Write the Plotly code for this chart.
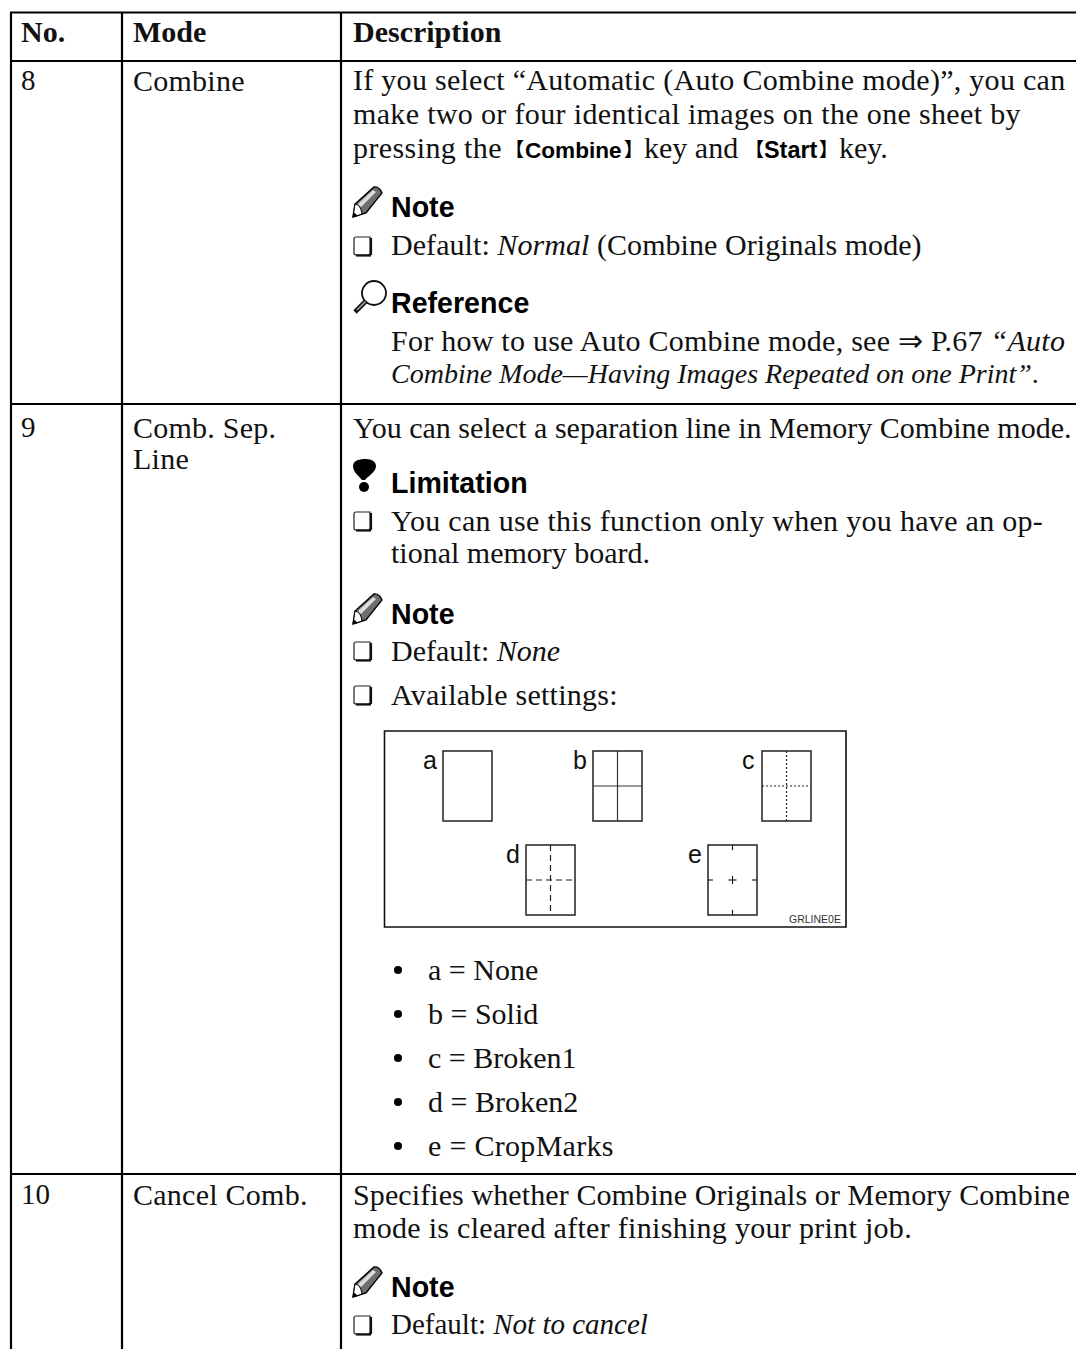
import plotly.graph_objects as go

SERIF = "Liberation Serif"
SANS = "Liberation Sans"
CJK = "Noto Sans CJK JP"
W, H = 1076, 1349

HEADERS = ["No.", "Mode", "Description"]
NUMBERS = ["8", "9", "10"]
MODES = ["Combine", "Comb. Sep.", "Line", "Cancel Comb."]
KEY_A = "Combine"
KEY_B = "Start"
KEY_LINE = ["pressing the", "key and", "key."]
BODY_TEXT = [
    "If you select “Automatic (Auto Combine mode)”, you can",
    "make two or four identical images on the one sheet by",
    "Default: <i>Normal</i> (Combine Originals mode)",
    "For how to use Auto Combine mode, see ⇒ P.67 <i>“Auto</i>",
    "<i>Combine Mode—Having Images Repeated on one Print”</i>.",
    "You can select a separation line in Memory Combine mode.",
    "You can use this function only when you have an op-",
    "tional memory board.",
    "Default: <i>None</i>",
    "Available settings:",
    "a = None", "b = Solid", "c = Broken1", "d = Broken2", "e = CropMarks",
    "Specifies whether Combine Originals or Memory Combine",
    "mode is cleared after finishing your print job.",
    "Default: <i>Not to cancel</i>",
]
HEADINGS = ["Note", "Reference", "Limitation", "Note", "Note"]
DIAGRAM_LETTERS = ["a", "b", "c", "d", "e"]
DIAGRAM_CODE = "GRLINE0E"

annotations, shapes = [], []


def put(x, base, text, size=30, family=SERIF, color="#111", spacing=0):
    if spacing:
        text = f"<span style='letter-spacing:{spacing}px'>{text}</span>"
    annotations.append(dict(
        x=x, y=base + 0.255 * size, xref="x", yref="y", text=text, showarrow=False,
        xanchor="left", yanchor="bottom", align="left", borderpad=0, borderwidth=0,
        font=dict(family=family, size=size, color=color)))


def line(x0, y0, x1, y1, w=2.0, color="#000", dash="solid"):
    shapes.append(dict(type="line", x0=x0, y0=y0, x1=x1, y1=y1, xref="x", yref="y",
                       line=dict(color=color, width=w, dash=dash)))


def path(d, fill="#000", lc="#000", lw=0):
    shapes.append(dict(type="path", path=d, xref="x", yref="y", fillcolor=fill,
                       line=dict(color=lc, width=lw)))


def rect(x0, y0, x1, y1, w=1.3, color="#222"):
    shapes.append(dict(type="rect", x0=x0, y0=y0, x1=x1, y1=y1, xref="x", yref="y",
                       line=dict(color=color, width=w), fillcolor="rgba(0,0,0,0)"))


def checkbox(base):
    x, y0, y1 = 354, base - 18, base
    path(f"M{x},{y0+2} Q{x},{y0} {x+2},{y0} L{x+16},{y0} L{x+16},{y1-2} Q{x+16},{y1} {x+14},{y1} L{x+2},{y1} Q{x},{y1} {x},{y1-2} Z",
         fill="#fff", lc="#222", lw=1.2)
    line(x + 17, y0 + 1, x + 17, y1, 2.2, "#111")
    line(x + 2, y1 + 0.5, x + 17, y1 + 0.5, 2.2, "#111")


def pencil(base):
    b = base
    path(f"M353,{b+1} L355,{b-12} L374,{b-29} Q379,{b-30} 382,{b-23} L366,{b-3} Z", fill="#6e6e6e", lc="#000", lw=1.4)
    path(f"M358,{b-12} L373,{b-26} L376,{b-24} L361,{b-9} Z", fill="#dcdcdc")
    path(f"M355,{b-12} Q361,{b-11} 362,{b-2} L353,{b+1} Z", fill="#fff", lc="#000", lw=1)
    path(f"M353,{b+1} L353.5,{b-4} L358,{b} Z", fill="#000")


def magnifier(base):
    b = base
    shapes.append(dict(type="circle", x0=362, y0=b-31, x1=386, y1=b-7, xref="x", yref="y",
                       line=dict(color="#111", width=1.8), fillcolor="#fff"))
    line(366, b-11, 355, b, 4.6, "#111")
    line(365.5, b-10.5, 357, b-2, 1.4, "#aaa")


def limit_icon(base):
    b = base
    path(f"M353,{b-26} C353,{b-32} 360,{b-33} 366,{b-33} C372,{b-33} 376,{b-30} 376,{b-26} "
         f"C376,{b-20} 368,{b-16} 365,{b-12} L362,{b-12} C358,{b-17} 353,{b-20} 353,{b-26} Z")
    shapes.append(dict(type="circle", x0=359, y0=b-10, x1=369, y1=b, xref="x", yref="y",
                       line=dict(width=0), fillcolor="#000"))


# table rules
for y in (12.5, 61, 404, 1174):
    line(10, y, W, y, 2.2)
for x in (11, 122, 341):
    line(x, 12, x, H, 2.2)

# header + first columns
for x, t in zip((21, 133, 353), HEADERS):
    put(x, 40, f"<b>{t}</b>", 30)
for n, b in zip(NUMBERS, (89, 436, 1203)):
    put(21, b, n, 29)
for m, b in zip(MODES, (89, 436, 467, 1203)):
    put(133, b, m, 30, spacing=.25)

# body text
BODY_X = [353, 353, 391, 391, 391, 353, 391, 391, 391, 391, 428, 428, 428, 428, 428, 353, 353, 391]
BODY_BASE = [89, 122, 254, 349, 382, 436, 529, 561, 659, 703, 978, 1022, 1066, 1110, 1154, 1203, 1236, 1333]
BODY_SIZE = [30, 30, 30, 30, 28, 30, 30, 30, 30, 30, 30, 30, 30, 30, 30, 30, 30, 29]
BODY_TRACK = [.28, .34, .06, .25, 0, 0, .3, 0, 0, .26, 0, 0, 0, 0, .3, .1, .3, 0]
for t, x, b, s, tr in zip(BODY_TEXT, BODY_X, BODY_BASE, BODY_SIZE, BODY_TRACK):
    put(x, b, t, s, spacing=tr)

# the line that carries the key names
put(353, 156, KEY_LINE[0], 30, spacing=.4)
put(505, 157, "<b>【</b>", 19, CJK, "#000")
put(525, 157, f"<b>{KEY_A}</b>", 22.6, SANS, "#000")
put(623.5, 157, "<b>】</b>", 19, CJK, "#000")
put(644, 156, KEY_LINE[1], 30)
put(745, 157, "<b>【</b>", 19, CJK, "#000")
put(764, 157, f"<b>{KEY_B}</b>", 23.4, SANS, "#000")
put(819, 157, "<b>】</b>", 19, CJK, "#000")
put(838.5, 156, KEY_LINE[2], 30)

for t, b in zip(HEADINGS, (216, 312, 492, 623, 1296)):
    put(391, b, f"<b>{t}</b>", 28.6, SANS, "#000")

pencil(216); pencil(623); pencil(1296)
magnifier(312)
limit_icon(492)
for b in (255, 530, 660, 704, 1334):
    checkbox(b)
for b in (979, 1023, 1067, 1111, 1155):
    shapes.append(dict(type="circle", x0=394, y0=b-13, x1=402, y1=b-5, xref="x", yref="y",
                       line=dict(width=0), fillcolor="#000"))

# diagram
rect(384.5, 731, 846, 927, 1.6, "#111")
RECT_X = [443, 593, 762, 526, 708]
RECT_Y = [751, 751, 751, 845, 845]
for x, y, l in zip(RECT_X, RECT_Y, DIAGRAM_LETTERS):
    rect(x, y, x + 49, y + 70, 1.5, "#222")
    put(x - 20, y + 17, l, 25, SANS, "#111")
cx, cy = 593 + 24.5, 751 + 35
line(cx, 751, cx, 821, 1.2, "#333"); line(593, cy, 642, cy, 1.2, "#333")
cx, cy = 762 + 24.5, 751 + 35
line(cx, 751, cx, 821, 1.2, "#222", "2px,2px"); line(762, cy, 811, cy, 1.2, "#222", "2px,2px")
cx, cy = 526 + 24.5, 845 + 35
line(cx, 845, cx, 915, 1.2, "#222", "6px,4px"); line(526, cy, 575, cy, 1.2, "#222", "6px,4px")
cx, cy = 708 + 24.5, 845 + 35
for a in ((cx, 845, cx, 850), (cx, 910, cx, 915), (708, cy, 713, cy), (752, cy, 757, cy),
          (cx - 4, cy, cx + 4, cy), (cx, cy - 4, cx, cy + 4)):
    line(*a, 1.1, "#111")
put(789, 922, DIAGRAM_CODE, 10.5, SANS, "#333")

fig = go.Figure()
fig.update_layout(
    width=W, height=H, margin=dict(l=0, r=0, t=0, b=0), autosize=False,
    paper_bgcolor="#fff", plot_bgcolor="#fff", showlegend=False,
    xaxis=dict(range=[0, W], visible=False, fixedrange=True),
    yaxis=dict(range=[H, 0], visible=False, fixedrange=True),
    annotations=annotations, shapes=shapes,
)
fig.write_html("out.html", config={"displayModeBar": False},
               post_script="document.body.style.margin='0';document.body.style.overflow='hidden';")
